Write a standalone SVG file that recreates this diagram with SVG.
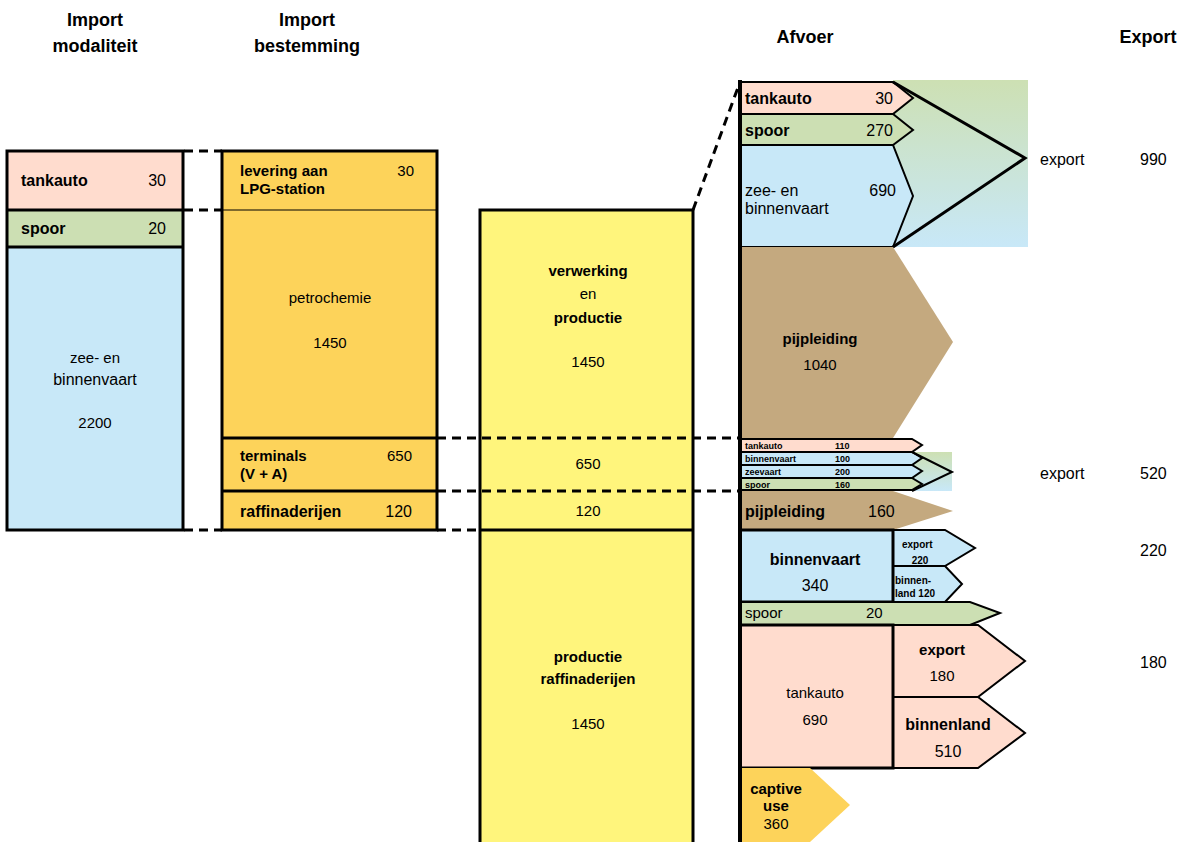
<svg xmlns="http://www.w3.org/2000/svg" width="1190" height="842" viewBox="0 0 1190 842">
<defs>
<linearGradient id="gv" x1="0" y1="0" x2="0" y2="1">
<stop offset="0" stop-color="#CDE0B3"/>
<stop offset="1" stop-color="#C8E8F8"/>
</linearGradient>
<style>
text{font-family:"Liberation Sans",Arial,sans-serif;fill:#000}
.h{font-size:18px;font-weight:bold;text-anchor:middle}
.b{font-size:15px;font-weight:bold}
.n{font-size:15px}
.m{font-size:16px}
.c{text-anchor:middle}
.e{text-anchor:end}
.s{font-size:9px;font-weight:bold}
.xs{font-size:10px;font-weight:bold}
.pink{fill:#FFDCCE}
.green{fill:#CCDFB3}
.blue{fill:#C8E8F8}
.tan{fill:#C4A97F}
.orange{fill:#FDD35A}
.yellow{fill:#FFF57C}
.bd{stroke:#000;stroke-width:3}
.bt{stroke:#000;stroke-width:2}
.dash{stroke:#000;stroke-width:3;stroke-dasharray:9,6;fill:none}
</style>
</defs>

<g id="headers">
<text class="h" x="95" y="26">Import</text>
<text class="h" x="95" y="52">modaliteit</text>
<text class="h" x="307" y="26">Import</text>
<text class="h" x="307" y="52">bestemming</text>
<text class="h" x="805" y="43">Afvoer</text>
<text class="h" x="1148" y="43">Export</text>
</g>

<g id="connectors">
<line class="dash" x1="184" y1="151" x2="222" y2="151"/>
<line class="dash" x1="184" y1="210" x2="222" y2="210"/>
<line class="dash" x1="184" y1="530" x2="222" y2="530"/>
<line class="dash" x1="437" y1="530" x2="480" y2="530"/>
<line class="dash" x1="693" y1="210" x2="740" y2="82"/>
</g>

<g id="import-modaliteit">
<rect class="pink" x="7" y="151" width="176" height="59"/>
<rect class="green" x="7" y="210" width="176" height="37"/>
<rect class="blue" x="7" y="247" width="176" height="283"/>
<line class="bd" x1="7" y1="210" x2="183" y2="210"/>
<line class="bd" x1="7" y1="247" x2="183" y2="247"/>
<rect x="7" y="151" width="176" height="379" fill="none" class="bd"/>
<text class="b m" x="21" y="186">tankauto</text>
<text class="m e" x="166" y="186">30</text>
<text class="b m" x="21" y="234">spoor</text>
<text class="m e" x="166" y="234">20</text>
<text class="n c" x="95" y="363">zee- en</text>
<text class="m c" x="95" y="385">binnenvaart</text>
<text class="n c" x="95" y="428">2200</text>
</g>

<g id="import-bestemming">
<rect class="orange" x="222" y="151" width="215" height="379"/>
<line stroke="#000" stroke-width="1" x1="222" y1="210" x2="437" y2="210"/>
<line class="bd" x1="222" y1="438" x2="437" y2="438"/>
<line class="bd" x1="222" y1="491" x2="437" y2="491"/>
<rect x="222" y="151" width="215" height="379" fill="none" class="bd"/>
<text class="b" x="240" y="176">levering aan</text>
<text class="b" x="240" y="194">LPG-station</text>
<text class="n e" x="414" y="176">30</text>
<text class="n c" x="330" y="303">petrochemie</text>
<text class="n c" x="330" y="348">1450</text>
<text class="b" x="240" y="461">terminals</text>
<text class="b" x="240" y="479">(V + A)</text>
<text class="n e" x="412" y="461">650</text>
<text class="b m" x="240" y="517">raffinaderijen</text>
<text class="m e" x="412" y="517">120</text>
</g>

<g id="verwerking">
<rect class="yellow" x="480" y="210" width="213" height="640" stroke="#000" stroke-width="3"/>
<line class="bd" x1="480" y1="530" x2="693" y2="530"/>
<text class="b c" x="588" y="276">verwerking</text>
<text class="n c" x="588" y="299">en</text>
<text class="b c" x="588" y="323">productie</text>
<text class="n c" x="588" y="367">1450</text>
<text class="n c" x="588" y="469">650</text>
<text class="n c" x="588" y="516">120</text>
<text class="b c" x="588" y="662">productie</text>
<text class="b c" x="588" y="684">raffinaderijen</text>
<text class="n c" x="588" y="729">1450</text>
</g>

<g id="connectors-mid">
<line class="dash" x1="437" y1="438" x2="740" y2="438"/>
<line class="dash" x1="437" y1="491" x2="740" y2="491"/>
</g>

<g id="export-top">
<rect fill="url(#gv)" x="893" y="80" width="135" height="167"/>
<polygon class="pink bt" points="740,82 893,82 913,98 893,114 740,114"/>
<polygon class="green bt" points="740,114 893,114 913,130 893,145 740,145"/>
<polygon class="blue bt" points="740,145 893,145 913,196 893,247 740,247"/>
<polyline points="893,82 1025,158 893,247" fill="none" stroke="#000" stroke-width="3"/>
<text class="b m" x="745" y="104">tankauto</text>
<text class="m e" x="893" y="104">30</text>
<text class="b m" x="745" y="136">spoor</text>
<text class="m e" x="893" y="136">270</text>
<text class="m" x="745" y="196">zee- en</text>
<text class="m" x="745" y="214">binnenvaart</text>
<text class="m e" x="896" y="196">690</text>
<text class="m" x="1040" y="165">export</text>
<text class="m" x="1140" y="165">990</text>
</g>

<g id="pijpleiding-1040">
<polygon class="tan" points="740,247 893,247 953,342 893,438 740,438"/>
<text class="b c" x="820" y="344">pijpleiding</text>
<text class="n c" x="820" y="370">1040</text>
</g>

<g id="terminals-afvoer">
<rect fill="url(#gv)" x="912" y="452" width="40" height="39"/>
<polygon class="pink bt" points="740,439 912,439 922,445 912,452 740,452"/>
<polygon class="blue bt" points="740,452 912,452 922,458 912,465 740,465"/>
<polygon class="blue bt" points="740,465 912,465 922,471 912,478 740,478"/>
<polygon class="green bt" points="740,478 912,478 922,484 912,490 740,490"/>
<polyline points="912,452 952,472 912,491" fill="none" stroke="#000" stroke-width="2"/>
<text class="s" x="745" y="449">tankauto</text>
<text class="s" x="835" y="449">110</text>
<text class="s" x="745" y="462">binnenvaart</text>
<text class="s" x="835" y="462">100</text>
<text class="s" x="745" y="475">zeevaart</text>
<text class="s" x="835" y="475">200</text>
<text class="s" x="745" y="488">spoor</text>
<text class="s" x="835" y="488">160</text>
<text class="m" x="1040" y="479">export</text>
<text class="m" x="1140" y="479">520</text>
</g>

<g id="pijpleiding-160">
<polygon class="tan" points="740,491 893,491 953,511 893,530 740,530"/>
<text class="b m" x="745" y="517">pijpleiding</text>
<text class="m" x="868" y="517">160</text>
</g>

<g id="binnenvaart-afvoer">
<polygon class="blue bt" points="893,530 945,530 975,548 945,566 893,566"/>
<polygon class="blue bt" points="893,566 945,566 962,584 945,602 893,602"/>
<rect class="blue bd" x="740" y="530" width="153" height="72"/>
<text class="b m c" x="815" y="565">binnenvaart</text>
<text class="m c" x="815" y="591">340</text>
<text class="xs" x="902" y="548">export</text>
<text class="xs c" x="920" y="564">220</text>
<text class="xs" x="895" y="584">binnen-</text>
<text class="xs" x="895" y="597">land  120</text>
<text class="m" x="1140" y="556">220</text>
</g>

<g id="spoor-afvoer">
<polygon class="green bt" points="740,602 970,602 1000,613 970,625 740,625"/>
<text class="n" x="745" y="618">spoor</text>
<text class="n" x="866" y="618">20</text>
</g>

<g id="tankauto-afvoer">
<polygon class="pink bt" points="893,625 978,625 1025,661 978,697 893,697"/>
<polygon class="pink bt" points="893,697 978,697 1025,733 978,768 893,768"/>
<rect class="pink bd" x="740" y="625" width="153" height="143"/>
<text class="n c" x="815" y="698">tankauto</text>
<text class="n c" x="815" y="725">690</text>
<text class="b c" x="942" y="655">export</text>
<text class="n c" x="942" y="681">180</text>
<text class="b m c" x="948" y="730">binnenland</text>
<text class="m c" x="948" y="757">510</text>
<text class="m" x="1140" y="668">180</text>
</g>

<g id="captive-use">
<polygon class="orange" points="740,768 810,768 850,805 810,842 740,842"/>
<text class="b c" x="776" y="794">captive</text>
<text class="b c" x="776" y="811">use</text>
<text class="n c" x="776" y="829">360</text>
</g>

<line id="afvoer-axis" x1="740" y1="80" x2="740" y2="842" stroke="#000" stroke-width="4"/>
</svg>
